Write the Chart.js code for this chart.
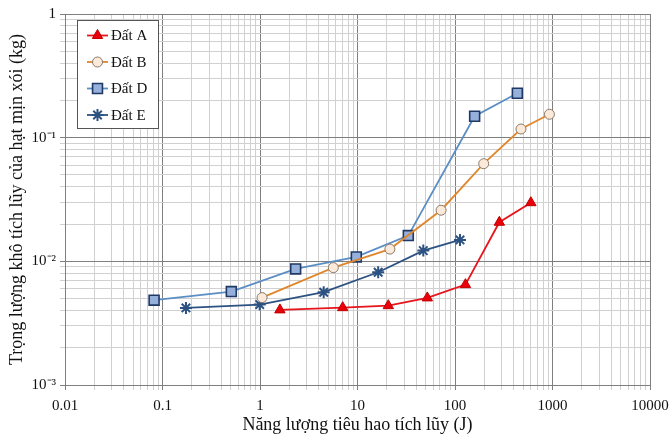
<!DOCTYPE html>
<html>
<head>
<meta charset="utf-8">
<script src="https://cdn.jsdelivr.net/npm/chart.js@4"></script>
<style>
  html, body { margin: 0; padding: 0; background: #fff; }
  #wrap { width: 672px; height: 438px; position: relative; }
</style>
</head>
<body>
<div id="wrap"><canvas id="energyChart"></canvas></div>
<script>
// Series data (x = cumulative energy J, y = cumulative dry mass kg)
const datA_x = [1.6, 7.05, 20.7, 52, 128, 285, 600];
const datA_y = [0.00405, 0.00422, 0.00438, 0.00506, 0.00648, 0.0207, 0.0298];
const datB_x = [1.05, 5.65, 21.5, 72, 197, 475, 930];
const datB_y = [0.00509, 0.00889, 0.01256, 0.0259, 0.0616, 0.1175, 0.1546];
const datD_x = [0.082, 0.508, 2.32, 9.72, 33.2, 159, 436];
const datD_y = [0.00485, 0.00569, 0.00868, 0.01086, 0.01614, 0.149, 0.2286];
const datE_x = [0.174, 0.993, 4.5, 16.3, 47.3, 112.5];
const datE_y = [0.0042, 0.00447, 0.00563, 0.00816, 0.01221, 0.0149];

const seriesNames = ['Đất A', 'Đất B', 'Đất D', 'Đất E'];
const xTickLabels = ['0.01', '0.1', '1', '10', '100', '1000', '10000'];
const yTickLabels = ['10⁻³', '10⁻²', '10⁻¹', '1'];

const toPoints = (xs, ys) => xs.map((x, i) => ({ x: x, y: ys[i] }));

// all 1..9 x 10^n ticks between two decades
function logTicks(minExp, maxExp) {
    const out = [];
    for (let e = minExp; e < maxExp; e++) {
        for (let m = 1; m <= 9; m++) out.push({ value: m * Math.pow(10, e) });
    }
    out.push({ value: Math.pow(10, maxExp) });
    return out;
}
const isDecade = v => Math.abs(Math.log10(v) - Math.round(Math.log10(v))) < 1e-9;

const serif = '"Liberation Serif", "Times New Roman", serif';

// legend with a frame, drawn inside the plot
const boxLegend = {
    id: 'boxLegend',
    afterDraw(chart) {
        const c = chart.ctx;
        const x0 = 77, y0 = 20, w = 81, h = 108;
        c.save();
        c.fillStyle = '#fff';
        c.fillRect(x0, y0, w, h);
        c.strokeStyle = '#555';
        c.lineWidth = 1;
        c.strokeRect(x0 + 0.5, y0 + 0.5, w, h);
        chart.data.datasets.forEach((ds, i) => {
            const y = 35.5 + i * 26.5;
            c.strokeStyle = ds.borderColor;
            c.lineWidth = ds.borderWidth;
            c.beginPath();
            c.moveTo(87, y);
            c.lineTo(108, y);
            c.stroke();
            c.fillStyle = ds.pointBackgroundColor;
            c.strokeStyle = ds.pointBorderColor;
            c.lineWidth = ds.pointBorderWidth;
            Chart.helpers.drawPoint(c, { pointStyle: ds.pointStyle, radius: ds.pointRadius, rotation: 0, borderWidth: ds.pointBorderWidth }, 97.5, y);
            c.fillStyle = '#111';
            c.font = '15px ' + serif;
            c.textBaseline = 'middle';
            c.fillText(ds.label, 111, y + 1);
        });
        c.restore();
    }
};

const gridColor = ctx => (ctx.tick && isDecade(ctx.tick.value)) ? '#7f7f7f' : '#d0d0d0';

const ctx1 = document.getElementById('energyChart').getContext('2d');
const energyChart = new Chart(ctx1, {
    type: 'line',
    data: {
        datasets: [{
            label: seriesNames[0],
            data: toPoints(datA_x, datA_y),
            borderColor: '#e8141b',
            borderWidth: 1.8,
            pointStyle: 'triangle',
            pointRadius: 6,
            pointBackgroundColor: '#e8000b',
            pointBorderColor: '#c00000',
            pointBorderWidth: 1
        }, {
            label: seriesNames[1],
            data: toPoints(datB_x, datB_y),
            borderColor: '#e0862c',
            borderWidth: 1.8,
            pointStyle: 'circle',
            pointRadius: 5,
            pointBackgroundColor: '#fbe9da',
            pointBorderColor: '#8c7a6a',
            pointBorderWidth: 1
        }, {
            label: seriesNames[2],
            data: toPoints(datD_x, datD_y),
            borderColor: '#5b8ec4',
            borderWidth: 1.8,
            pointStyle: 'rect',
            pointRadius: 7,
            pointBackgroundColor: '#95b0da',
            pointBorderColor: '#1f3864',
            pointBorderWidth: 1.6
        }, {
            label: seriesNames[3],
            data: toPoints(datE_x, datE_y),
            borderColor: '#2c5282',
            borderWidth: 1.8,
            pointStyle: 'star',
            pointRadius: 6,
            pointBackgroundColor: '#2c5282',
            pointBorderColor: '#2c5282',
            pointBorderWidth: 2
        }]
    },
    options: {
        responsive: true,
        maintainAspectRatio: false,
        animation: false,
        layout: { padding: { top: 14, right: 22, left: 0, bottom: 0 } },
        plugins: {
            legend: { display: false },
            tooltip: { enabled: false }
        },
        scales: {
            x: {
                type: 'logarithmic',
                min: 0.01,
                max: 10000,
                afterBuildTicks: s => { s.ticks = logTicks(-2, 4); },
                afterFit: s => { s.height = 53; s.paddingLeft = 0; s.paddingRight = 0; },
                grid: { color: gridColor, tickLength: 5, lineWidth: 1 },
                border: { color: '#7f7f7f' },
                ticks: {
                    autoSkip: false,
                    maxRotation: 0,
                    padding: 7,
                    color: '#111',
                    font: { family: serif, size: 15 },
                    callback: v => isDecade(v) ? xTickLabels[Math.round(Math.log10(v)) + 2] : ''
                },
                title: {
                    display: true,
                    text: 'Năng lượng tiêu hao tích lũy (J)',
                    color: '#111',
                    font: { family: serif, size: 18 },
                    padding: { top: 0, bottom: 2 }
                }
            },
            y: {
                type: 'logarithmic',
                min: 0.001,
                max: 1,
                afterBuildTicks: s => { s.ticks = logTicks(-3, 0); },
                afterFit: s => { s.width = 65; s.paddingTop = 0; s.paddingBottom = 0; },
                grid: { color: gridColor, tickLength: 5, lineWidth: 1 },
                border: { color: '#7f7f7f' },
                ticks: {
                    autoSkip: false,
                    padding: 4,
                    color: '#111',
                    font: { family: serif, size: 15 },
                    callback: v => isDecade(v) ? yTickLabels[Math.round(Math.log10(v)) + 3] : ''
                },
                title: {
                    display: true,
                    text: 'Trọng lượng khô tích lũy của hạt mịn xói (kg)',
                    color: '#111',
                    font: { family: serif, size: 18 },
                    padding: { top: 6, bottom: 0 }
                }
            }
        }
    },
    plugins: [boxLegend]
});
</script>
</body>
</html>
